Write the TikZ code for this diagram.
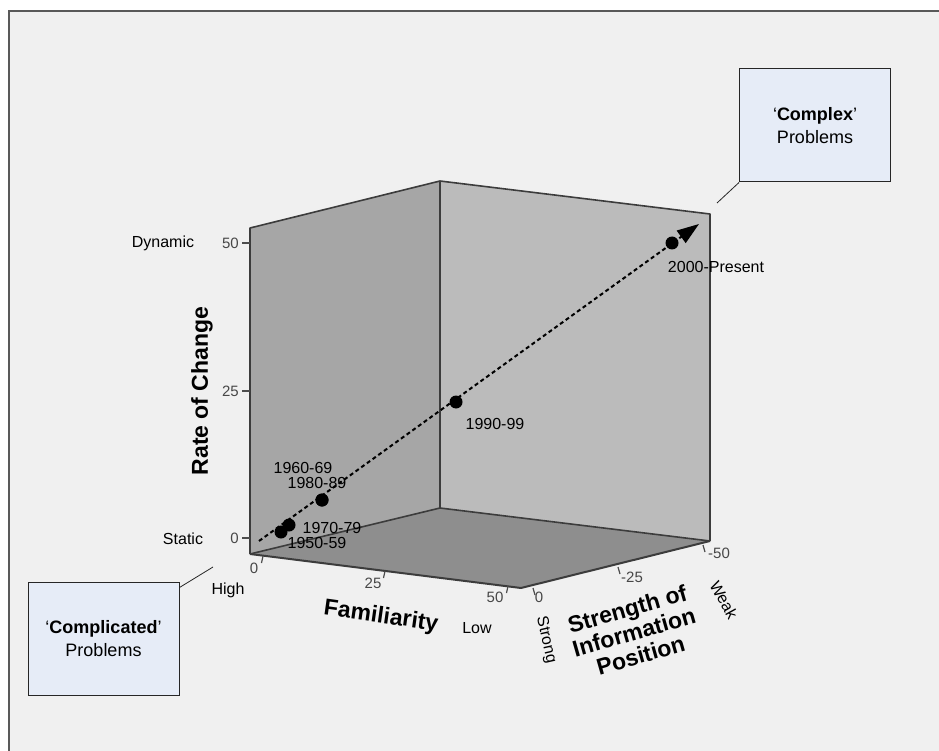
\documentclass[tikz,border=0pt]{standalone}
\usepackage{fontspec}
\setmainfont{Liberation Sans}
\usepackage{tikz}
\usetikzlibrary{arrows.meta}

\definecolor{bgray}{HTML}{F0F0F0}
\definecolor{leftface}{HTML}{A6A6A6}
\definecolor{backface}{HTML}{BBBBBB}
\definecolor{floorface}{HTML}{8E8E8E}
\definecolor{edgegray}{HTML}{3C3C3C}
\definecolor{boxblue}{HTML}{E6ECF7}

\tikzset{
  lbl/.style={font=\fontsize{16}{18}\selectfont, inner sep=0pt},
  ttl/.style={font=\fontsize{23}{24}\selectfont\bfseries, inner sep=0pt},
  tck/.style={font=\fontsize{15}{16}\selectfont, text=black!72, inner sep=0pt},
  dot/.style={circle, fill=black, inner sep=0pt, minimum size=13pt},
  probbox/.style={draw=black!85, line width=1pt, fill=boxblue, minimum width=151pt,
    minimum height=113pt, align=center, font=\fontsize{18}{23}\selectfont},
  leader/.style={black!85, line width=0.8pt},
  edge/.style={edgegray, line width=1.6pt, line join=round},
  tickmark/.style={black!70, line width=1.2pt},
  trend/.style={line width=2pt, dash pattern=on 4pt off 3pt,
    -{Triangle[length=22pt, width=15pt]}},
}

\begin{document}
\begin{tikzpicture}[x=1pt, y=-1pt]
  \useasboundingbox (0,0) rectangle (939,751);
  \fill[white] (0,0) rectangle (939,751);
  \draw[fill=bgray, draw=black!65, line width=2.5pt] (9,11) rectangle (960,770);

  % faces of the box
  \fill[leftface] (250,228) -- (440,181) -- (440,508) -- (250,554) -- cycle;
  \fill[backface] (440,181) -- (710,214) -- (710,541) -- (440,508) -- cycle;
  \fill[floorface] (250,554) -- (440,508) -- (710,541) -- (521,588) -- cycle;
  \draw[edge] (250,554) -- (250,228) -- (440,181) -- (710,214) -- (710,541);
  \draw[edge] (440,181) -- (440,508);
  \draw[edge] (250,554) -- (440,508) -- (710,541);
  \draw[edge, line width=2pt] (250,554) -- (521,588) -- (710,541);

  % rate of change axis
  \draw[tickmark] (242,243) -- (250,243);
  \draw[tickmark] (242,391) -- (250,391);
  \draw[tickmark] (242,538) -- (250,538);
  \node[tck, anchor=east] (r50) at (239,243) {50};
  \node[tck, anchor=east] (r25) at (239,391) {25};
  \node[tck, anchor=east] (r0) at (239,538) {0};
  \node[lbl] (dynamic) at (163,243) {Dynamic};
  \node[lbl] (static) at (183,539) {Static};
  \node[ttl, rotate=90] (rate) at (202,391) {Rate of Change};

  % familiarity axis
  \draw[tickmark] (263,556) -- (261.5,563);
  \draw[tickmark] (385,571) -- (383.5,578);
  \draw[tickmark] (508,586) -- (506.5,593);
  \node[tck] (f0) at (254,568) {0};
  \node[tck] (f25) at (373,583) {25};
  \node[tck] (f50) at (495,597) {50};
  \node[lbl] (high) at (228,590) {High};
  \node[lbl] (low) at (477,628) {Low};
  \node[ttl, rotate=-8] (fam) at (381,617) {Familiarity};

  % strength axis
  \draw[tickmark] (533,588) -- (535,595);
  \draw[tickmark] (618,567) -- (620,574);
  \draw[tickmark] (703,545) -- (705,552);
  \node[tck] (s0) at (539,597) {0};
  \node[tck] (s25) at (632,577) {-25};
  \node[tck] (s50) at (719,553) {-50};
  \node[lbl, rotate=-77] (strong) at (546,640) {Strong};
  \node[lbl, rotate=-61] (weak) at (724,600) {Weak};
  \node[ttl, rotate=16, align=center] (info) at (634,632) {Strength of\\Information\\Position};

  % trend
  \coordinate (tstart) at (259,541);
  \coordinate (tend) at (699,224);
  \draw[trend] (tstart) -- (tend);

  % decades
  \node[dot] (d1950) at (281,532) {};
  \node[dot] (d1970) at (289,525) {};
  \node[dot] (d1960) at (322,500) {};
  \node[dot] (d1980) at (322,500) {};
  \node[dot] (d1990) at (456,402) {};
  \node[dot] (d2000) at (672,243) {};
  \node[lbl] (l1960) at (303,468) {1960-69};
  \node[lbl] (l1980) at (317,483) {1980-89};
  \node[lbl] (l1970) at (332,528) {1970-79};
  \node[lbl] (l1950) at (317,543) {1950-59};
  \node[lbl] (l1990) at (495,424) {1990-99};
  \node[lbl] (l2000) at (716,267) {2000-Present};

  % problem boxes
  \node[probbox] (cplx) at (815,125.5) {‘\textbf{Complex}’\\Problems};
  \coordinate (cplxend) at (717,203);
  \draw[leader] (cplx.south west) -- (cplxend);
  \node[probbox] (cmpl) at (103.5,638.5) {‘\textbf{Complicated}’\\Problems};
  \coordinate (cmplend) at (213,567);
  \draw[leader] ([yshift=-6pt]cmpl.north east) -- (cmplend);
\end{tikzpicture}
\end{document}
